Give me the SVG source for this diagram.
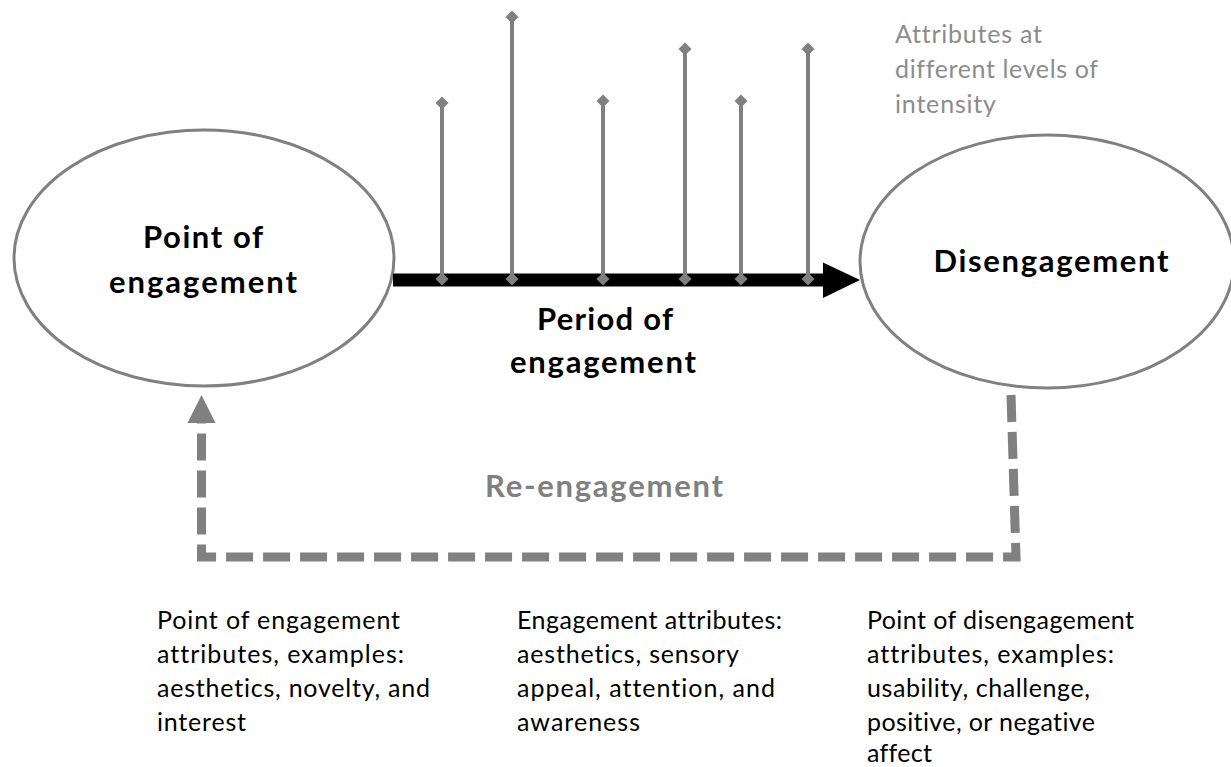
<svg xmlns="http://www.w3.org/2000/svg" width="1231" height="767" viewBox="0 0 1231 767">
<style>
  text { font-variant-ligatures: none; font-feature-settings: "liga" 0, "clig" 0; }
  .node { fill: #ffffff; stroke: #808080; stroke-width: 3; }
  .title { font-family: Lato, "Open Sans", sans-serif; font-weight: bold; font-size: 31px; fill: #000000; text-anchor: middle; }
  .gray-title { font-family: Lato, "Open Sans", sans-serif; font-weight: bold; font-size: 31px; fill: #808080; text-anchor: middle; }
  .note { font-family: Lato, "Open Sans", sans-serif; font-size: 25px; fill: #000000; }
  .note-gray { font-family: Lato, "Open Sans", sans-serif; font-size: 25px; fill: #8c8c8c; }
  .stem { stroke: #808080; stroke-width: 4; fill: none; }
  .dia { fill: #808080; }
  .dash { stroke: #808080; stroke-width: 9; fill: none; stroke-dasharray: 27 10; }
</style>
<defs>
  <polygon id="diamond" class="dia" points="0,-6.5 6.5,0 0,6.5 -6.5,0"/>
</defs>

<g id="node-point-of-engagement">
  <ellipse class="node" cx="204" cy="258" rx="190" ry="128"/>
  <text class="title" x="203" y="248" textLength="120">Point of</text>
  <text class="title" x="203" y="293" textLength="188">engagement</text>
</g>

<g id="node-disengagement">
  <ellipse class="node" cx="1047" cy="261.5" rx="187" ry="126.5"/>
  <text class="title" x="1051" y="272" textLength="235">Disengagement</text>
</g>

<g id="connectors">
  <!-- period of engagement arrow -->
  <line x1="393" y1="280" x2="826" y2="280" stroke="#000000" stroke-width="13"/>
  <polygon points="823,262.5 860,280 823,298" fill="#000000"/>
  <!-- attribute stems -->
  <line class="stem" x1="442" y1="103" x2="442" y2="279"/>
  <line class="stem" x1="512" y1="17" x2="512" y2="279"/>
  <line class="stem" x1="603" y1="101" x2="603" y2="279"/>
  <line class="stem" x1="685" y1="49" x2="685" y2="279"/>
  <line class="stem" x1="741" y1="101" x2="741" y2="279"/>
  <line class="stem" x1="808" y1="49" x2="808" y2="279"/>
  <use href="#diamond" x="442" y="103"/><use href="#diamond" x="442" y="279"/>
  <use href="#diamond" x="512" y="17"/><use href="#diamond" x="512" y="279"/>
  <use href="#diamond" x="603" y="101"/><use href="#diamond" x="603" y="279"/>
  <use href="#diamond" x="685" y="49"/><use href="#diamond" x="685" y="279"/>
  <use href="#diamond" x="741" y="101"/><use href="#diamond" x="741" y="279"/>
  <use href="#diamond" x="808" y="49"/><use href="#diamond" x="808" y="279"/>
  <!-- re-engagement loop -->
  <path class="dash" d="M 1011 395 L 1016 557 L 201.5 557 L 201.5 421"/>
  <polygon points="201.5,395 215.5,423 187.5,423" fill="#808080"/>
</g>

<g id="label-period">
  <text class="title" x="605" y="330" textLength="136">Period of</text>
  <text class="title" x="603" y="373" textLength="186">engagement</text>
</g>

<g id="label-reengagement">
  <text class="gray-title" x="604" y="497" textLength="238">Re-engagement</text>
</g>

<g id="label-intensity">
  <text class="note-gray" x="895" y="43" textLength="147">Attributes at</text>
  <text class="note-gray" x="895" y="78" textLength="203">different levels of</text>
  <text class="note-gray" x="895" y="113" textLength="101">intensity</text>
</g>

<g id="text-point-attributes">
  <text class="note" x="157" y="629" textLength="243">Point of engagement</text>
  <text class="note" x="157" y="663" textLength="247">attributes, examples:</text>
  <text class="note" x="157" y="697" textLength="273">aesthetics, novelty, and</text>
  <text class="note" x="157" y="731" textLength="89">interest</text>
</g>

<g id="text-engagement-attributes">
  <text class="note" x="517" y="629" textLength="265">Engagement attributes:</text>
  <text class="note" x="517" y="663" textLength="222">aesthetics, sensory</text>
  <text class="note" x="517" y="697" textLength="258">appeal, attention, and</text>
  <text class="note" x="517" y="731" textLength="123">awareness</text>
</g>

<g id="text-disengagement-attributes">
  <text class="note" x="867" y="629" textLength="267">Point of disengagement</text>
  <text class="note" x="867" y="663" textLength="247">attributes, examples:</text>
  <text class="note" x="867" y="697" textLength="223">usability, challenge,</text>
  <text class="note" x="867" y="731" textLength="228">positive, or negative</text>
  <text class="note" x="867" y="762" textLength="65">affect</text>
</g>
</svg>
